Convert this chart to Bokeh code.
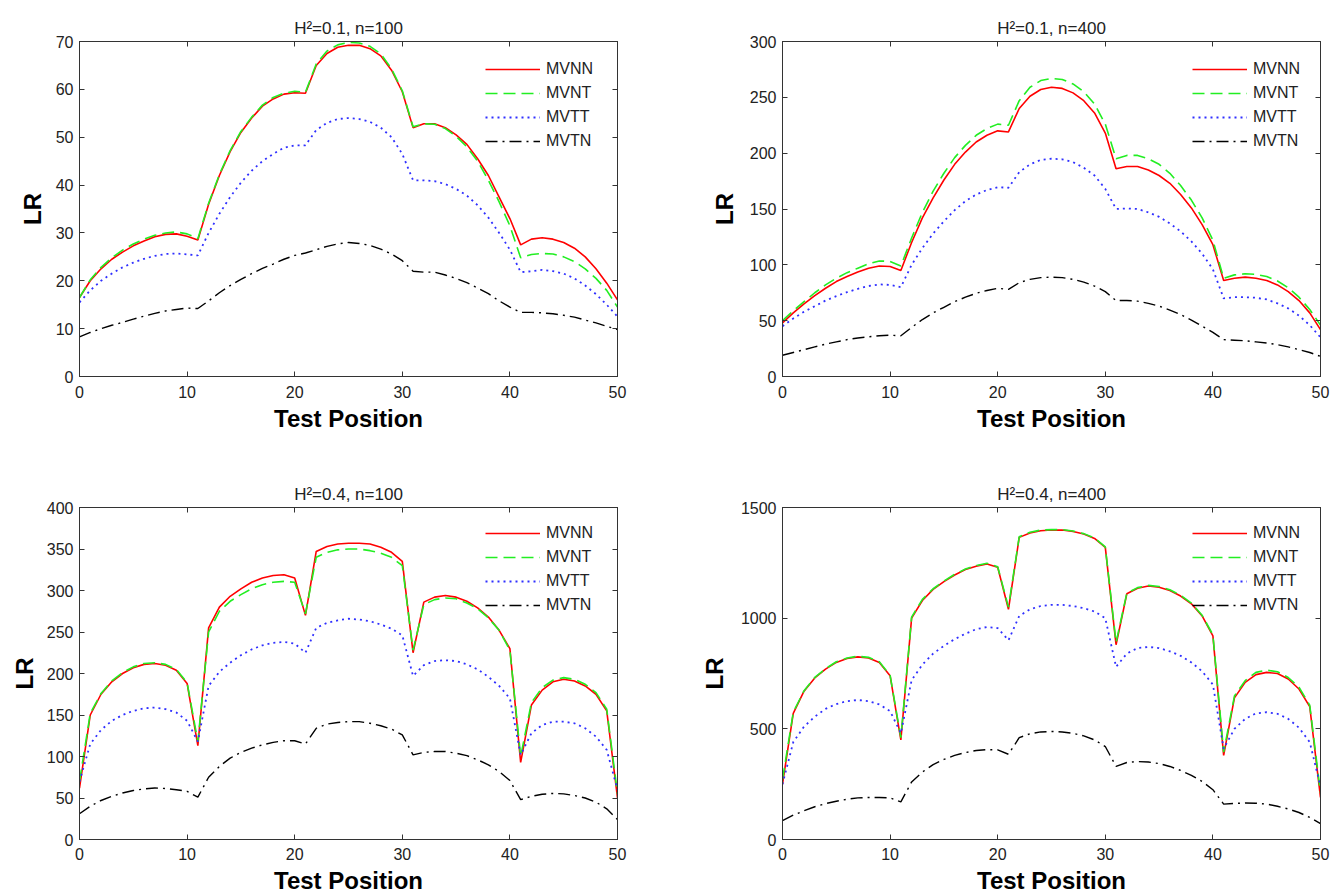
from bokeh.plotting import figure
from bokeh.layouts import column, row
from bokeh.models import (Legend, LegendItem, LinearAxis, FixedTicker,
                          CustomJSTickFormatter, Range1d)
from bokeh.embed import file_html
from bokeh.resources import INLINE

positions = list(range(0, 51))
series_names = ["MVNN", "MVNT", "MVTT", "MVTN"]

# Panel 1: H^2=0.1, n=100
p1_mvnn = [16.5, 20, 22.5, 24.5, 26, 27.3, 28.3, 29.2, 29.7, 29.8, 29.3, 28.5,
           36, 42, 47, 51, 54, 56.5, 58, 59, 59.3, 59.2,
           65, 67.5, 68.8, 69.2, 69.2, 68.5, 67, 64, 59.5, 52,
           52.8, 52.8, 52, 50.5, 48.5, 45.5, 42, 37.5, 33, 27.5,
           28.7, 29, 28.7, 28, 26.8, 25, 22.5, 19.5, 16]
p1_mvnt = [16.5, 20.2, 22.8, 24.8, 26.4, 27.7, 28.7, 29.5, 30.0, 30.2, 29.8, 28.8,
           36.2, 42.2, 47.2, 51.2, 54.2, 56.7, 58.3, 59.2, 59.6, 59.4,
           65.3, 68, 69.3, 69.8, 69.7, 69, 67.4, 64.3, 59.7, 52.2,
           52.8, 52.7, 51.8, 50.2, 48, 45, 41, 36.5, 31.5, 24.8,
           25.5, 25.7, 25.6, 25, 24, 22.5, 20.5, 18, 14.5]
p1_mvtt = [15.5, 18, 20, 21.5, 22.8, 23.8, 24.6, 25.2, 25.6, 25.7, 25.5, 25.3,
           30, 34, 37.5, 40.5, 43, 45, 46.5, 47.8, 48.3, 48.3,
           51.5, 53, 53.8, 54, 53.8, 53.2, 52, 50, 46.5, 41,
           41, 40.8, 40.2, 39.2, 37.8, 35.8, 33.2, 30, 26.5, 21.8,
           22, 22.3, 22, 21.5, 20.5, 19, 17.2, 15, 12.5]
p1_mvtn = [8.3, 9.2, 10, 10.7, 11.3, 12, 12.6, 13.2, 13.7, 14, 14.3, 14.2,
           15.8, 17.5, 19, 20.3, 21.5, 22.6, 23.5, 24.5, 25.3, 25.8,
           26.5, 27.2, 27.7, 28, 27.8, 27.4, 26.6, 25.6, 24.2, 22,
           21.8, 21.8, 21.2, 20.5, 19.6, 18.5, 17.3, 15.8, 14.5, 13.4,
           13.4, 13.3, 13.1, 12.8, 12.4, 11.8, 11.2, 10.5, 9.8]

# Panel 2: H^2=0.1, n=400
p2_mvnn = [48, 57, 65, 72.5, 79, 85, 89.5, 93.5, 97, 99, 98.5, 95,
           120, 142, 160, 176, 190, 201, 210, 216, 220, 219,
           240, 251, 257, 259, 258, 254, 247, 236, 218, 186,
           188, 188, 185, 180, 173, 163, 151, 136, 118, 86,
           88, 89, 88, 86, 82, 76, 68, 57, 42]
p2_mvnt = [50, 59, 67, 75, 82, 88, 93, 97, 101, 103.5, 103, 99,
           124, 147, 166, 182, 196, 207, 216, 222, 226, 225,
           247, 259, 265, 267, 266, 262, 255, 244, 226, 195,
           198, 198, 195, 190, 182, 171, 158, 142, 122, 88,
           91, 92, 91.5, 89.5, 85.5, 79.5, 71, 60, 46]
p2_mvtt = [45, 52, 58, 63, 68, 72, 75.5, 78.5, 81, 82.5, 82, 80,
           100, 115, 128, 139, 149, 157, 163, 167, 169.5, 169,
           183, 190, 194, 195, 194.5, 192, 187, 180, 168, 150,
           150.5, 150, 147, 143, 137, 130, 121, 110, 96, 70,
           71, 71, 70.5, 69, 65.5, 61, 54.5, 46, 35]
p2_mvtn = [19, 21.5, 24, 26.5, 29, 31, 33, 34.5, 35.5, 36.5, 37, 36.5,
           44, 51, 57, 62, 67, 71, 74.5, 77, 79, 78,
           84, 87, 88.5, 89, 88.5, 87, 84.5, 81, 76, 68,
           68, 67.5, 65.5, 63, 59.5, 55.5, 50.5, 45, 39.5, 33,
           32.5, 32, 31, 30, 28.5, 26.5, 24, 21.5, 18]

# Panel 3: H^2=0.4, n=100
p3_mvnn = [62, 150, 175, 190, 200, 207, 211, 212, 210, 204, 188, 113,
           255, 280, 293, 302, 310, 315, 318, 319, 315, 270,
           347, 353, 356, 357, 357, 356, 352, 346, 335, 225,
           286, 292, 294, 292, 287, 279, 268, 252, 230, 93,
           162, 180, 190, 193, 191, 185, 175, 155, 50]
p3_mvnt = [70, 152, 176, 191, 201, 208, 212, 213, 211, 205, 189, 118,
           250, 275, 287, 295, 302, 307, 310, 311, 310, 272,
           340, 346, 349, 350, 350, 348, 345, 340, 330, 228,
           283, 289, 291, 290, 285, 278, 267, 252, 228, 100,
           165, 183, 192, 195, 193, 187, 177, 157, 55]
p3_mvtt = [70, 115, 132, 143, 150, 155, 158, 159, 157, 153, 143, 118,
           185, 202, 213, 222, 229, 234, 237, 238, 236, 225,
           255, 261, 264, 266, 265, 263, 259, 254, 246, 197,
           210, 215, 216, 215, 211, 205, 196, 185, 170, 102,
           128, 138, 142, 142, 140, 134, 124, 108, 60]
p3_mvtn = [31, 40, 47, 52, 56, 59, 61, 62, 61.5, 60, 58, 51,
           75, 88, 98, 105, 110, 114, 117, 119, 119, 115,
           134, 139, 141, 142, 142, 140, 137, 133, 126, 102,
           105, 106, 106, 104, 101, 96, 90, 82, 71, 48,
           52, 54.5, 55.5, 55, 53, 50, 45, 37, 24]

# Panel 4: H^2=0.4, n=400
p4_mvnn = [250, 570, 670, 730, 770, 800, 818, 825, 820, 800, 740, 450,
           1000, 1080, 1130, 1165, 1195, 1220, 1235, 1245, 1230, 1040,
           1365, 1385, 1395, 1398, 1398, 1392, 1380, 1360, 1320, 880,
           1110, 1135, 1145, 1140, 1125, 1100, 1065, 1010, 920, 380,
           640, 710, 745, 755, 750, 725, 680, 600, 190]
p4_mvnt = [270, 575, 672, 732, 772, 803, 820, 828, 823, 803, 742, 460,
           1005, 1085, 1133, 1168, 1198, 1222, 1238, 1248, 1232, 1050,
           1368, 1388, 1398, 1400, 1400, 1394, 1382, 1362, 1322, 890,
           1113, 1138, 1148, 1143, 1128, 1103, 1068, 1013, 925, 395,
           648, 718, 755, 765, 758, 732, 688, 607, 210]
p4_mvtt = [250, 440, 510, 555, 590, 612, 625, 630, 625, 610, 580, 480,
           720, 790, 840, 875, 905, 930, 950, 960, 955, 900,
           1010, 1040, 1055, 1060, 1060, 1055, 1045, 1030, 1000, 780,
           840, 865, 870, 865, 850, 830, 800, 760, 700, 410,
           500, 545, 570, 575, 568, 545, 505, 440, 240]
p4_mvtn = [85, 110, 130, 148, 162, 173, 182, 188, 190, 190, 188, 170,
           260, 305, 338, 362, 380, 393, 402, 406, 405, 385,
           460, 478, 486, 488, 486, 480, 468, 450, 420, 330,
           348, 352, 350, 343, 330, 312, 290, 262, 225, 160,
           163, 165, 164, 160, 150, 138, 122, 100, 72]

titles = ["H\u00b2=0.1, n=100", "H\u00b2=0.1, n=400",
          "H\u00b2=0.4, n=100", "H\u00b2=0.4, n=400"]
y_max = [70, 300, 400, 1500]
y_step = [10, 50, 50, 500]
x_ticks = [0, 10, 20, 30, 40, 50]

styles = [
    dict(line_color="#ff0000", line_width=1.6, line_dash="solid"),
    dict(line_color="#22ee22", line_width=1.6, line_dash="12 6"),
    dict(line_color="#2f2fff", line_width=1.8, line_dash="2 4"),
    dict(line_color="#000000", line_width=1.4, line_dash="12 5 2 5"),
]

FONT = "Liberation Sans"
TXT = "#222222"


def make_panel(idx, data, width, height, b_left, b_right, b_top, b_bottom,
               frame_h, legend_x, lr_standoff, tick_standoff):
    ymax = y_max[idx]
    p = figure(width=width, height=height, output_backend="svg",
               toolbar_location=None,
               x_range=Range1d(0, 50), y_range=Range1d(0, ymax),
               min_border_left=b_left, min_border_right=b_right,
               min_border_top=b_top, min_border_bottom=b_bottom,
               title=titles[idx])
    p.title.align = "center"
    p.title.text_font = FONT
    p.title.text_font_size = "17px"
    p.title.text_font_style = "normal"
    p.title.text_color = TXT
    p.title.standoff = 8
    p.xgrid.visible = False
    p.ygrid.visible = False
    p.outline_line_color = "#333333"
    p.outline_line_width = 1
    p.background_fill_color = "white"
    p.border_fill_color = "white"

    yt = list(range(0, ymax + 1, y_step[idx]))
    p.xaxis.ticker = FixedTicker(ticks=x_ticks)
    p.yaxis.ticker = FixedTicker(ticks=yt)
    for ax in (p.xaxis[0], p.yaxis[0]):
        ax.major_tick_in = 5
        ax.major_tick_out = 0
        ax.minor_tick_line_color = None
        ax.axis_line_color = "#333333"
        ax.major_tick_line_color = "#333333"
        ax.major_label_text_font = FONT
        ax.major_label_text_font_size = "16px"
        ax.major_label_text_color = TXT
        ax.axis_label_text_font = FONT
        ax.axis_label_text_font_size = "24px"
        ax.axis_label_text_font_style = "bold"
        ax.axis_label_text_color = "#000000"
    p.xaxis.axis_label = "Test Position"
    p.xaxis.major_label_standoff = tick_standoff
    p.xaxis.axis_label_standoff = 4
    p.yaxis.axis_label = "LR"
    p.yaxis.major_label_standoff = 6
    p.yaxis.axis_label_standoff = lr_standoff

    for side, tk in (("right", yt), ("above", x_ticks)):
        ax = LinearAxis(ticker=FixedTicker(ticks=tk),
                        formatter=CustomJSTickFormatter(code="return ''"),
                        major_tick_in=5, major_tick_out=0,
                        minor_tick_line_color=None,
                        major_label_standoff=0,
                        major_label_text_font_size="0px",
                        axis_line_color="#333333",
                        major_tick_line_color="#333333")
        p.add_layout(ax, side)

    items = []
    for name, ys, st in zip(series_names, data, styles):
        r = p.line(positions, ys, **st)
        items.append(LegendItem(label=name, renderers=[r]))

    leg = Legend(items=items, location=(legend_x, frame_h - 18 - 92),
                 orientation="vertical", padding=0, margin=0, spacing=4,
                 glyph_width=55, glyph_height=20, label_height=20,
                 label_standoff=6, label_text_font=FONT,
                 label_text_font_size="16px", label_text_color=TXT,
                 border_line_alpha=0, background_fill_alpha=0)
    p.add_layout(leg, "center")
    return p


# row 1: page y 0..464, frames 41..376; row 2: page y 464..896, frames 507..841
p1 = make_panel(0, [p1_mvnn, p1_mvnt, p1_mvtt, p1_mvtn], 666, 464,
                79, 49, 41, 88, 335, 406, 7, 9)
p2 = make_panel(1, [p2_mvnn, p2_mvnt, p2_mvtt, p2_mvtn], 666, 464,
                116, 12, 41, 88, 335, 410, 9, 9)
p3 = make_panel(2, [p3_mvnn, p3_mvnt, p3_mvtt, p3_mvtn], 666, 432,
                79, 49, 43, 55, 334, 406, 6, 8)
p4 = make_panel(3, [p4_mvnn, p4_mvnt, p4_mvtt, p4_mvtn], 666, 432,
                116, 12, 43, 55, 334, 410, 10, 8)

layout = column(row(p1, p2, spacing=0), row(p3, p4, spacing=0), spacing=0)
open("out.html", "w").write(file_html(layout, INLINE))
